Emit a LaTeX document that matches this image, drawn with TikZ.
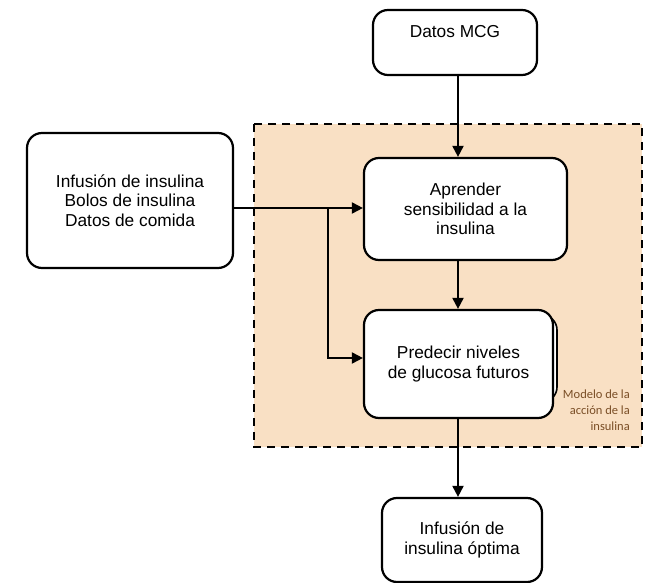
\documentclass[tikz,border=0pt]{standalone}
\usepackage{fontspec}
\setmainfont{Liberation Sans}
\newfontfamily\notefont{Carlito}
\usetikzlibrary{arrows.meta,calc}
\definecolor{regionfill}{HTML}{F9E0C4}
\definecolor{notebrown}{HTML}{7A4E26}
\begin{document}
\begin{tikzpicture}[x=1pt,y=-1pt,
  box/.style={draw, line width=2.2pt, rounded corners=15pt, fill=white,
    align=center, inner sep=0pt, font=\fontsize{17.3}{19.5}\selectfont},
  flow/.style={line width=2pt, -{Triangle[length=11pt,width=11pt]}},
  region/.style={draw, line width=2.4pt, dash pattern=on 8pt off 6pt, fill=regionfill}]
\useasboundingbox (0,0) rectangle (648,583);

% model region
\draw[region] (254,124) rectangle (642,447);
\node[text=notebrown, align=right, anchor=north east,
  font=\notefont\fontsize{12.5}{16}\selectfont, inner sep=0pt] (lbl) at (630,390)
  {Modelo de la\\acción de la\\insulina};

% boxes
\node[box, minimum width=164pt, text height=28pt, text depth=37pt] (dm) at (455,42.5) {Datos MCG};
\node[box, minimum width=206pt, minimum height=135pt] (in) at (130,200.5)
  {Infusión de insulina\\Bolos de insulina\\Datos de comida};
\node[box, minimum width=203pt, minimum height=102pt] (ap) at (465.5,209)
  {Aprender\\sensibilidad a la\\insulina};
\draw[line width=1.6pt, rounded corners=15pt, fill=white] (367,402) rectangle (557,315);
\node[box, minimum width=189pt, minimum height=108pt] (pr) at (458.5,364)
  {Predecir niveles\\de glucosa futuros};
\node[box, minimum width=160pt, minimum height=84pt] (out) at (462,540)
  {Infusión de\\insulina óptima};

% connectors
\coordinate (ax) at (458,0);
\coordinate (ly) at (0,208);
\coordinate (br) at (328,208);
\coordinate (ly2) at (0,358);
\draw[flow] (dm.south -| ax) -- (ap.north -| ax);
\draw[flow] (ap.south -| ax) -- (pr.north -| ax);
\draw[flow] (pr.south -| ax) -- (out.north -| ax);
\draw[flow] (in.east |- ly) -- (ap.west |- ly);
\draw[flow] (br) -- (br |- ly2) -- (pr.west |- ly2);
\end{tikzpicture}
\end{document}
